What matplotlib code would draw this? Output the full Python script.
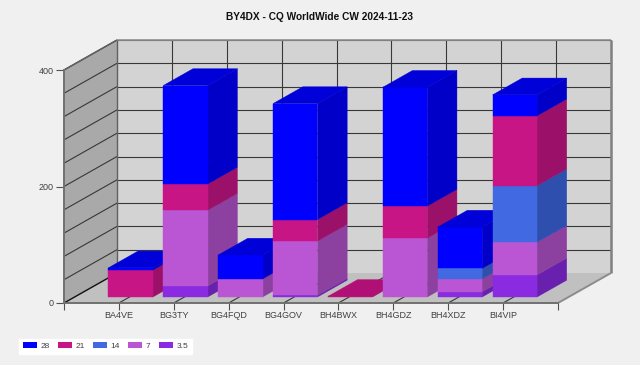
import matplotlib
matplotlib.use("Agg")
import matplotlib.pyplot as plt
from matplotlib.patches import Polygon, Patch

plt.rcParams['font.family'] = ['Liberation Sans', 'DejaVu Sans']

stations = ["BA4VE", "BG3TY", "BG4FQD", "BG4GOV", "BH4BWX", "BH4GDZ", "BH4XDZ", "BI4VIP"]
bands = ["3.5", "7", "14", "21", "28"]
band_35 = [0, 19, 0, 3, 0, 0, 9, 38]
band_7 = [0, 130, 31, 93, 0, 101, 22, 56]
band_14 = [0, 0, 0, 0, 0, 0, 18, 97]
band_21 = [46, 45, 0, 37, 1, 55, 0, 120]
band_28 = [4, 169, 41, 199, 0, 204, 71, 36]
y_ticks = [0, 200, 400]

front = ["#8a2be2", "#ba55d3", "#4169e1", "#c71585", "#0000ff"]
side = ["#6a20ae", "#8c40a0", "#2f4fae", "#9b1068", "#0000c8"]
top = ["#7a25c8", "#a34cb8", "#3a5cc8", "#b01075", "#0000d8"]

fig = plt.figure(figsize=(6.4, 3.65), dpi=100, facecolor="#f0f0f0")
ax = fig.add_axes([64 / 640, 1 - 303 / 365, 494 / 640, 233 / 365])
ax.set_xlim(0, 9)
ax.set_ylim(0, 400)
ax.set_facecolor("none")

# one unit of depth in data units
DX = 53 / (494 / 9)
DY = 30 / (233 / 400)


def pt(x, y, d):
    return (x + d * DX, y + d * DY)


def face(points, color, z=1, seam=0.0):
    ax.add_patch(Polygon(points, closed=True, facecolor=color, edgecolor=color if seam else "none",
                         linewidth=seam, zorder=z, clip_on=False))


def line(a, b, color="#383838", lw=0.8, z=1.5):
    ax.plot([a[0], b[0]], [a[1], b[1]], color=color, lw=lw, zorder=z, clip_on=False,
            solid_capstyle="butt")


# walls and floor
face([pt(0, 0, 1), pt(9, 0, 1), pt(9, 400, 1), pt(0, 400, 1)], "#d3d3d3")
face([pt(0, 0, 0), pt(0, 0, 1), pt(0, 400, 1), pt(0, 400, 0)], "#a9a9a9")
face([pt(0, 0, 0), pt(9, 0, 0), pt(9, 0, 1), pt(0, 0, 1)], "#c0c0c0")

for v in range(40, 401, 40):
    line(pt(0, v, 1), pt(9, v, 1))
    line(pt(0, v, 0), pt(0, v, 1))
for i in range(1, 9):
    line(pt(i, 0, 1), pt(i, 400, 1))
    line(pt(i, 0, 0), pt(i, 0, 1))

line(pt(0, 400, 0), pt(0, 400, 1), "#606060", 1.1)
line(pt(0, 400, 1), pt(9, 400, 1), "#909090", 1.2)
line(pt(0, 0, 1), pt(0, 400, 1), "#606060", 1.0)
line(pt(9, 0, 1), pt(9, 400, 1), "#808080", 1.8)
line(pt(9, 0, 0), pt(9, 0, 1), "#8c8c8c", 1.4)
line(pt(0, 0, 0), pt(0, 0, 1), "#101010", 1.0)

# stacked bars, left to right and bottom to top
bar_w = 0.81
bar_shift = 0.02
d0, d1 = 0.2, 0.76
series = [band_35, band_7, band_14, band_21, band_28]
z = 2
for i in range(len(stations)):
    x0 = i + 1 + bar_shift - bar_w / 2
    x1 = i + 1 + bar_shift + bar_w / 2
    base = 0
    last = None
    for k, values in enumerate(series):
        v = values[i]
        if v == 0:
            continue
        t = base + v
        face([pt(x1, base, d0), pt(x1, base, d1), pt(x1, t, d1), pt(x1, t, d0)], side[k], z, 0.3)
        face([pt(x0, base, d0), pt(x1, base, d0), pt(x1, t, d0), pt(x0, t, d0)], front[k], z, 0.3)
        base = t
        last = k
        z += 1
    face([pt(x0, base, d0), pt(x1, base, d0), pt(x1, base, d1), pt(x0, base, d1)], top[last], z, 0.3)
    z += 1

# axes
for s in ["top", "right"]:
    ax.spines[s].set_visible(False)
ax.spines["left"].set_color("#707070")
ax.spines["left"].set_linewidth(1.4)
ax.spines["bottom"].set_color("#707070")
ax.spines["bottom"].set_linewidth(1.4)
ax.spines["left"].set_zorder(200)
ax.spines["bottom"].set_zorder(200)

ax.set_xticks(range(0, 10))
ax.set_xticklabels([""] + stations + [""])
ax.set_yticks(y_ticks)
ax.tick_params(axis="x", length=5, width=0.8, color="#505050", labelsize=6.5,
               labelcolor="#404040", pad=1)
ax.tick_params(axis="y", length=6, width=0.8, color="#505050", labelsize=6.5,
               labelcolor="#404040", pad=1.5)

fig.text(320 / 640, 1 - 17 / 365, "BY4DX - CQ WorldWide CW 2024-11-23", ha="center", va="center",
         fontsize=7.25, fontweight="bold", color="#101010")

handles = [Patch(facecolor=front[k], label=bands[k]) for k in [4, 3, 2, 1, 0]]
leg = fig.legend(handles=handles, ncol=5, loc="lower left", bbox_to_anchor=(19 / 640, 1 - 354 / 365),
                 frameon=True, fancybox=False, framealpha=1, facecolor="white", edgecolor="white",
                 fontsize=6, handlelength=1.7, handleheight=0.7, handletextpad=0.4,
                 columnspacing=1.0, borderpad=0.45, borderaxespad=0, labelcolor="#404040")

fig.savefig("out.png", dpi=100, facecolor=fig.get_facecolor())
